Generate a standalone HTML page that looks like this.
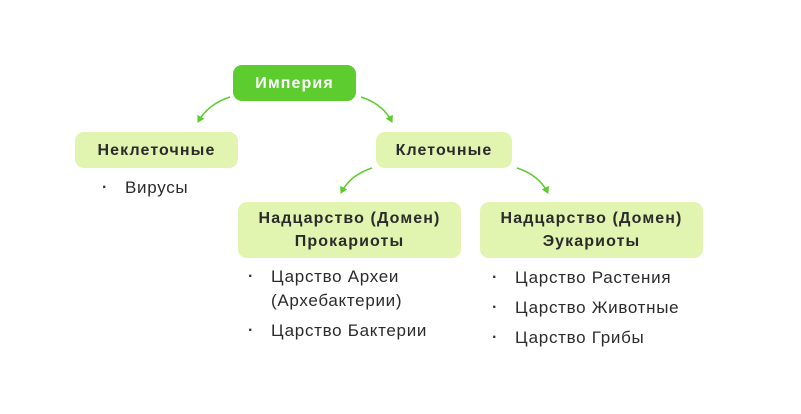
<!DOCTYPE html>
<html><head><meta charset="utf-8"><style>
body{margin:0;width:801px;height:414px;background:#fff;position:relative;overflow:hidden;font-family:"Liberation Sans",sans-serif;color:#2b2b2b}
.b{position:absolute;background:#e1f4b0;border-radius:9px;display:flex;align-items:center;justify-content:center;text-align:center;font-weight:bold;font-size:16px;line-height:23px;letter-spacing:1.1px}
.t{position:absolute;font-size:17px;line-height:24px;letter-spacing:0.7px;white-space:nowrap}
.d{position:absolute;font-size:16px;font-weight:bold;color:#333}
</style></head><body>
<div class="b" style="left:233px;top:65px;width:123px;height:36px;background:#5ccc2e;color:#fff">Империя</div>
<div class="b" style="left:75px;top:132px;width:163px;height:36px">Неклеточные</div>
<div class="b" style="left:376px;top:132px;width:136px;height:36px">Клеточные</div>
<div class="b" style="left:238px;top:202px;width:223px;height:56px">Надцарство (Домен)<br>Прокариоты</div>
<div class="b" style="left:480px;top:202px;width:223px;height:56px">Надцарство (Домен)<br>Эукариоты</div>
<div class="d" style="left:102px;top:179px">·</div><div class="t" style="left:125px;top:176px">Вирусы</div>
<div class="d" style="left:248px;top:268px">·</div><div class="t" style="left:271px;top:265px">Царство Археи<br>(Архебактерии)</div>
<div class="d" style="left:248px;top:322px">·</div><div class="t" style="left:271px;top:319px">Царство Бактерии</div>
<div class="d" style="left:492px;top:269px">·</div><div class="t" style="left:515px;top:266px">Царство Растения</div>
<div class="d" style="left:492px;top:299px">·</div><div class="t" style="left:515px;top:296px">Царство Животные</div>
<div class="d" style="left:492px;top:329px">·</div><div class="t" style="left:515px;top:326px">Царство Грибы</div>
<svg width="801" height="414" style="position:absolute;left:0;top:0" fill="none" stroke="#5ccc2e" stroke-width="1.5">
<defs><marker id="a" markerWidth="8" markerHeight="8" refX="6" refY="4" orient="auto" markerUnits="userSpaceOnUse"><path d="M0,0 L7,4 L0,8 Z" fill="#5ccc2e" stroke="none"/></marker></defs>
<path d="M230,97 Q208,104 198,122" marker-end="url(#a)"/>
<path d="M361,97 Q383,104 392,122" marker-end="url(#a)"/>
<path d="M372,168 Q350,175 341,193" marker-end="url(#a)"/>
<path d="M517,168 Q539,175 548,193" marker-end="url(#a)"/>
</svg>
</body></html>
